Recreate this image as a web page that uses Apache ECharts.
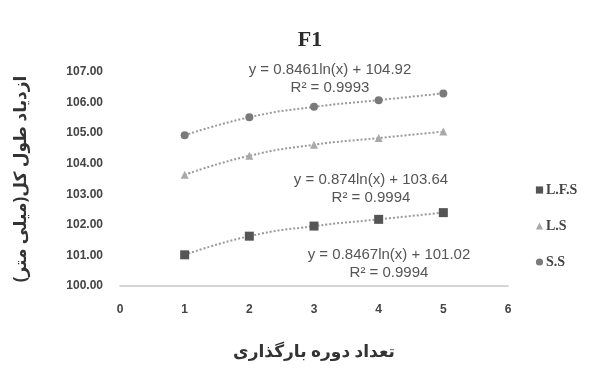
<!DOCTYPE html>
<html>
<head>
<meta charset="utf-8">
<script src="https://cdn.jsdelivr.net/npm/echarts@6/dist/echarts.min.js"></script>
<style>
  html, body { margin: 0; padding: 0; background: #fff; }
  #chart { width: 611px; height: 387px; }
</style>
</head>
<body>
<div id="chart"></div>
<script>
// Loading cycles and total elongation (mm) per specimen group
const cycles = [1, 2, 3, 4, 5];
const lfs = [101.02, 101.63, 101.96, 102.18, 102.40];
const ls = [103.64, 104.26, 104.62, 104.84, 105.05];
const ss = [104.93, 105.52, 105.86, 106.08, 106.30];

const seriesNames = ['L.F.S', 'L.S', 'S.S'];
const yTicks = [100, 101, 102, 103, 104, 105, 106, 107];

// Logarithmic trend-line captions (centre x, top y)
const fitLabels = [
  { text: 'y = 0.8461ln(x) + 104.92\nR² = 0.9993', x: 330, y: 61 },
  { text: 'y = 0.874ln(x) + 103.64\nR² = 0.9994', x: 371, y: 171 },
  { text: 'y = 0.8467ln(x) + 101.02\nR² = 0.9994', x: 389, y: 246 }
];

const colors = { 'L.F.S': '#555555', 'L.S': '#a9a9a9', 'S.S': '#7a7a7a' };
const symbols = { 'L.F.S': 'rect', 'L.S': 'triangle', 'S.S': 'circle' };
const values = { 'L.F.S': lfs, 'L.S': ls, 'S.S': ss };

const chart = echarts.init(document.getElementById('chart'));
const tickFont = '"Liberation Sans Narrow", "Liberation Sans", Arial, sans-serif';

const series = [];
seriesNames.forEach(name => {
  const pts = cycles.map((c, i) => [c, values[name][i]]);
  // dotted trend line through the points
  series.push({
    name: name + ' trend',
    type: 'line',
    data: pts,
    smooth: true,
    symbol: 'none',
    silent: true,
    lineStyle: { type: [2, 2], width: 2, color: '#9a9a9a' },
    z: 1
  });
  series.push({
    name: name,
    type: 'line',
    data: pts,
    symbol: symbols[name],
    symbolSize: name === 'L.F.S' ? 9 : 8,
    itemStyle: { color: colors[name] },
    lineStyle: { width: 0, opacity: 0 },
    z: 3
  });
});

chart.setOption({
  animation: false,
  backgroundColor: '#ffffff',
  title: {
    text: 'F1',
    left: 305,
    top: 24,
    textAlign: 'center',
    textStyle: { fontFamily: '"Liberation Serif", "DejaVu Serif", serif', fontWeight: 'bold', fontSize: 22, color: '#2b2b2b' }
  },
  legend: {
    data: seriesNames,
    orient: 'vertical',
    left: 530,
    top: 178,
    itemGap: 22,
    itemWidth: 9,
    itemHeight: 9,
    textStyle: { fontFamily: '"Liberation Serif", serif', fontWeight: 'bold', fontSize: 14, color: '#444', padding: [0, 0, 0, -3] }
  },
  grid: { left: 120, right: 103, top: 72, bottom: 101 },
  xAxis: {
    type: 'value',
    min: 0, max: 6, interval: 1,
    name: 'تعداد دوره بارگذاری',
    nameLocation: 'middle',
    nameGap: 58,
    nameTextStyle: { fontFamily: '"Noto Sans", "DejaVu Sans", sans-serif', fontWeight: 'bold', fontSize: 17, color: '#333' },
    axisLine: { show: true, onZero: false, lineStyle: { color: '#c8c8c8', width: 1.5 } },
    axisTick: { show: false },
    splitLine: { show: false },
    axisLabel: { margin: 18, fontFamily: tickFont, fontWeight: 'bold', fontSize: 12, color: '#444' }
  },
  yAxis: {
    type: 'value',
    min: yTicks[0], max: yTicks[yTicks.length - 1], interval: 1,
    name: 'ازدیاد طول کل(میلی متر)',
    nameLocation: 'middle',
    nameRotate: 90,
    nameGap: 90,
    nameTextStyle: { fontFamily: '"Noto Sans", "DejaVu Sans", sans-serif', fontWeight: 'bold', fontSize: 17, color: '#333' },
    axisLine: { show: false },
    axisTick: { show: false },
    splitLine: { show: false },
    axisLabel: { margin: 17, fontFamily: tickFont, fontWeight: 'bold', fontSize: 12, color: '#444', formatter: v => v.toFixed(2) }
  },
  graphic: fitLabels.map(f => ({
    type: 'text',
    x: f.x,
    y: f.y,
    style: {
      text: f.text,
      align: 'center',
      verticalAlign: 'top',
      font: '15px "Liberation Sans Narrow", "Liberation Sans", sans-serif',
      fill: '#555',
      lineHeight: 18
    }
  })),
  series: series
});
</script>
</body>
</html>
